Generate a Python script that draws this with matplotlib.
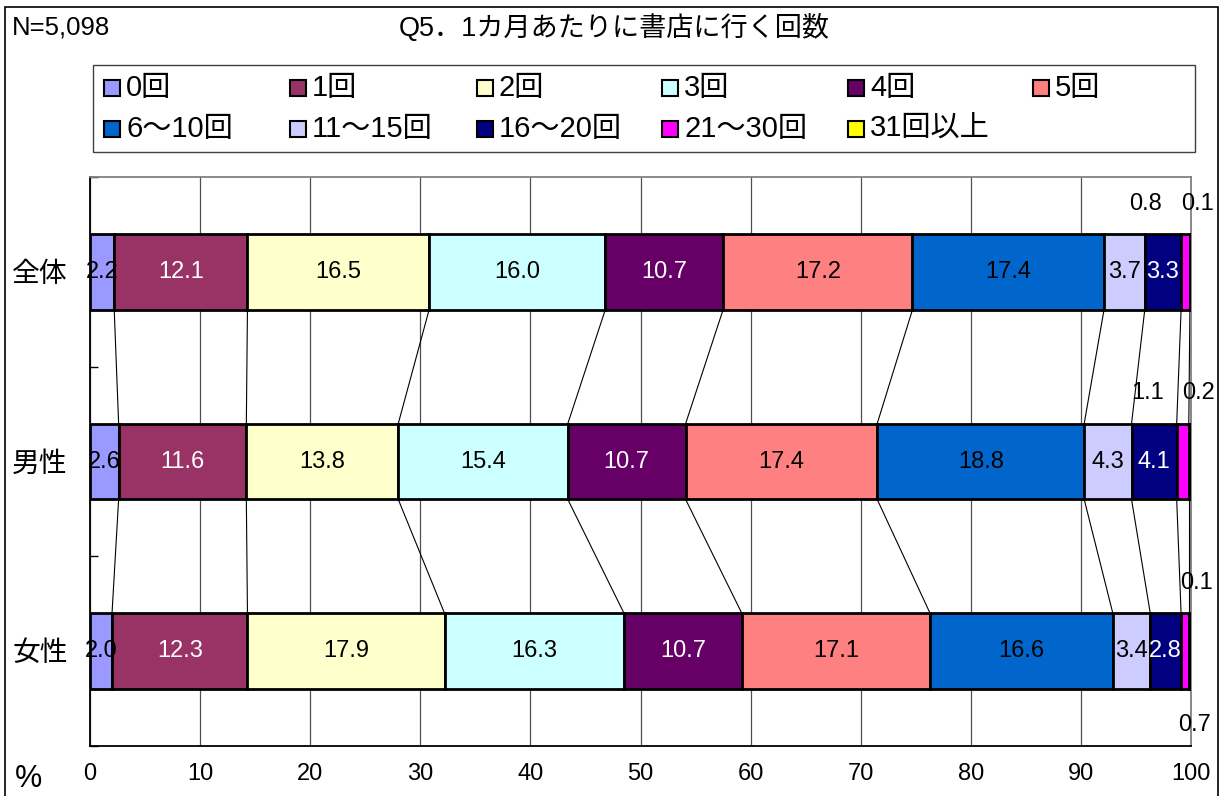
import matplotlib
matplotlib.use('Agg')
import matplotlib.pyplot as plt
from matplotlib.patches import Rectangle
import numpy as np

plt.rcParams['font.family'] = ['Liberation Sans', 'Noto Sans CJK JP', 'DejaVu Sans']

# ---------------- data ----------------
categories = ['全体', '男性', '女性']
series_names = ['0回', '1回', '2回', '3回', '4回', '5回',
                '6～10回', '11～15回', '16～20回', '21～30回', '31回以上']
total_vals = [2.2, 12.1, 16.5, 16.0, 10.7, 17.2, 17.4, 3.7, 3.3, 0.8, 0.1]
male_vals = [2.6, 11.6, 13.8, 15.4, 10.7, 17.4, 18.8, 4.3, 4.1, 1.1, 0.2]
female_vals = [2.0, 12.3, 17.9, 16.3, 10.7, 17.1, 16.6, 3.4, 2.8, 0.7, 0.1]
x_ticks = [0, 10, 20, 30, 40, 50, 60, 70, 80, 90, 100]
title_text = 'Q5．1カ月あたりに書店に行く回数'
sample_note = 'N=5,098'
unit_label = '%'

# ---------------- styles ----------------
colors = ['#9999FF', '#993366', '#FFFFCC', '#CCFFFF', '#660066', '#FF8080',
          '#0066CC', '#CCCCFF', '#000080', '#FF00FF', '#FFFF00']
label_colors = ['black', 'white', 'black', 'black', 'white', 'black',
                'black', 'black', 'white', 'black', 'black']
# manual label placement for the tiny segments: (row, series) -> (x, y-offset)
label_overrides = {
    (0, 9): (95.9, -0.36), (0, 10): (100.6, -0.36),
    (1, 9): (96.1, -0.36), (1, 10): (100.7, -0.36),
    (2, 9): (100.3, 0.39), (2, 10): (100.5, -0.36),
}

W, H = 1223, 796
fig = plt.figure(figsize=(W / 100, H / 100), dpi=100)


def fx(px):
    return px / W


def fy(py):
    return 1 - py / H


ax = fig.add_axes([fx(90), fy(746), fx(1191) - fx(90), fy(177) - fy(746)])

data = [total_vals, male_vals, female_vals]
rows = np.arange(len(categories))
bar_h = 0.4
lab_fs = 17

cums = []
for i, vals in enumerate(data):
    lefts = np.concatenate([[0], np.cumsum(vals)[:-1]])
    cums.append(np.cumsum(vals))
    for k, v in enumerate(vals):
        ax.barh(rows[i], v, left=lefts[k], height=bar_h, color=colors[k],
                edgecolor='black', linewidth=2.0, zorder=3)
        if (i, k) in label_overrides:
            lx, dy = label_overrides[(i, k)]
            ax.text(lx, rows[i] + dy, f'{v:.1f}', ha='center', va='center',
                    fontsize=lab_fs, color='black', clip_on=False, zorder=5)
        else:
            ax.text(lefts[k] + v / 2, rows[i], f'{v:.1f}', ha='center',
                    va='center', fontsize=lab_fs, color=label_colors[k],
                    zorder=5)

# series lines
for i in range(len(categories) - 1):
    for k in range(len(series_names)):
        ax.plot([cums[i][k], cums[i + 1][k]],
                [rows[i] + bar_h / 2, rows[i + 1] - bar_h / 2],
                color='black', lw=0.8, zorder=2)

ax.set_xlim(0, 100)
ax.set_ylim(len(categories) - 0.5, -0.5)
ax.set_xticks(x_ticks)
ax.set_xticklabels([str(t) for t in x_ticks], fontsize=17)
ax.xaxis.grid(True, color='#505050', lw=0.9)
ax.set_axisbelow(True)
ax.tick_params(axis='x', length=0, pad=12)

ax.set_yticks(rows)
ax.set_yticklabels(categories, fontsize=20)
ax.tick_params(axis='y', length=0, pad=16)
ax.set_yticks(np.arange(-0.5, len(categories), 1.0), minor=True)
ax.tick_params(axis='y', which='minor', direction='in', length=6,
               width=1, color='black')

for s in ['left', 'bottom']:
    ax.spines[s].set_color('black')
    ax.spines[s].set_linewidth(1.3)
for s in ['top', 'right']:
    ax.spines[s].set_color('#808080')
    ax.spines[s].set_linewidth(1.3)

# ---------------- texts ----------------
fig.text(fx(614), fy(28), title_text, ha='center', va='center', fontsize=19.5)
fig.text(fx(12), fy(28), sample_note, ha='left', va='center', fontsize=18.5)
fig.text(fx(28), fy(779), unit_label, ha='center', va='center', fontsize=22)

# ---------------- legend (manual, uniform columns) ----------------
fig.patches.append(Rectangle((fx(93), fy(152)), fx(1195) - fx(93),
                             fy(65) - fy(152), transform=fig.transFigure,
                             fill=False, ec='#404040', lw=1.0))
col_x = [104, 290, 477, 662, 848, 1033]
row_y = [88, 129]
msz = 16
for idx, name in enumerate(series_names):
    r, c = divmod(idx, 6)
    mx, my = col_x[c], row_y[r]
    fig.patches.append(Rectangle((fx(mx), fy(my + msz / 2)), fx(msz),
                                 fy(0) - fy(msz), transform=fig.transFigure,
                                 fc=colors[idx], ec='black', lw=1.5))
    fig.text(fx(mx + msz + 6), fy(my), name, ha='left', va='center',
             fontsize=21)

# outer frame
fig.patches.append(Rectangle((fx(5), fy(800)), fx(1218) - fx(5),
                             fy(7) - fy(800), transform=fig.transFigure,
                             fill=False, ec='black', lw=1.2, clip_on=False))

fig.savefig('out.png', dpi=100)
